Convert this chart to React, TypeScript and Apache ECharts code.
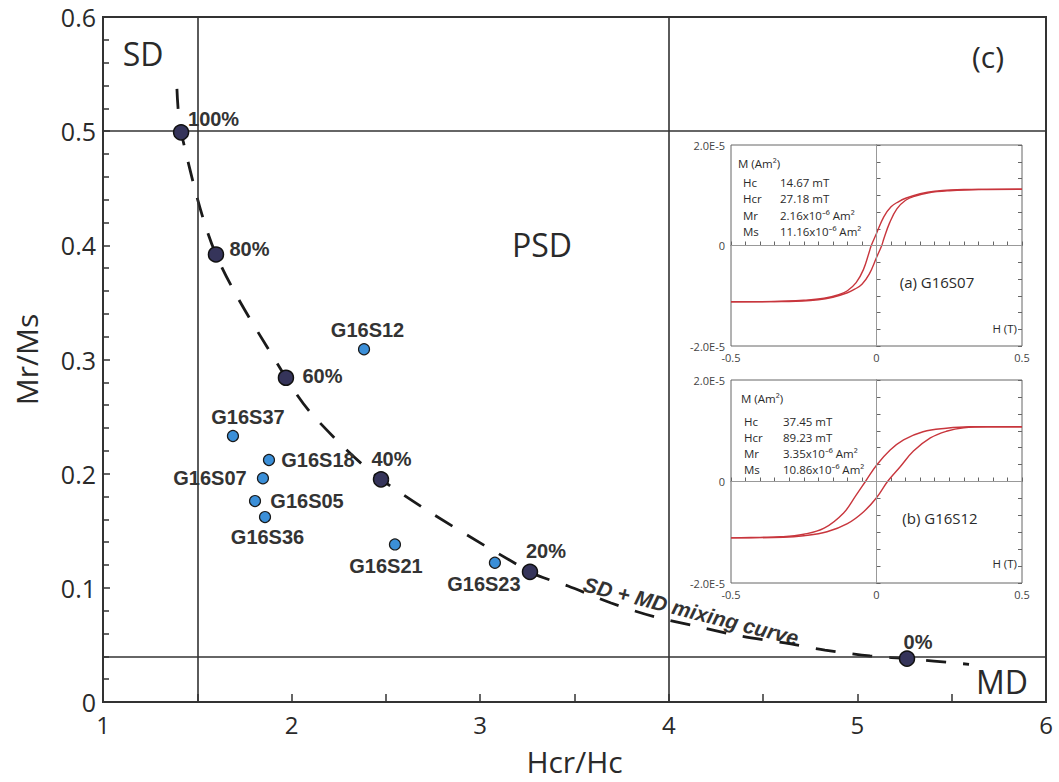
import React, { useEffect, useRef } from 'react';
import * as echarts from 'echarts';

// ---------- Day plot data ----------
const mixLabels = ['100%', '80%', '60%', '40%', '20%', '0%'];
const mixHcrHc = [1.414, 1.599, 1.97, 2.474, 3.264, 5.263];
const mixMrMs = [0.499, 0.392, 0.284, 0.195, 0.114, 0.038];

const curveHcrHc = [1.392, 1.414, 1.599, 1.97, 2.119, 2.474, 3.264, 3.466, 3.694, 3.927, 4.139, 4.378, 4.616, 4.828, 5.067, 5.263, 5.592];
const curveMrMs = [0.537, 0.499, 0.392, 0.284, 0.25, 0.195, 0.114, 0.1016, 0.0867, 0.0745, 0.0666, 0.0578, 0.0517, 0.0455, 0.0403, 0.038, 0.033];

const sampleNames = ['G16S12', 'G16S37', 'G16S18', 'G16S07', 'G16S05', 'G16S36', 'G16S21', 'G16S23'];
const sampleHcrHc = [2.384, 1.689, 1.88, 1.848, 1.806, 1.859, 2.548, 3.078];
const sampleMrMs = [0.309, 0.233, 0.212, 0.196, 0.176, 0.162, 0.138, 0.122];

const boundaryHcrHc = [1.5, 4];
const boundaryMrMs = [0.5, 0.04];

// ---------- Hysteresis loops (H in T, M in 1e-5 Am^2) ----------
const loopA_descH = [-0.5, -0.35, -0.25, -0.18, -0.13, -0.1, -0.07, -0.045, -0.025, -0.018, 0, 0.025, 0.05, 0.075, 0.1, 0.15, 0.2, 0.3, 0.5];
const loopA_descM = [-1.12, -1.115, -1.09, -1.05, -0.98, -0.9, -0.74, -0.48, -0.13, 0, 0.24, 0.57, 0.77, 0.87, 0.94, 1.03, 1.08, 1.115, 1.12];
const loopA_ascH = [-0.5, -0.3, -0.2, -0.15, -0.1, -0.075, -0.05, -0.025, 0, 0.018, 0.025, 0.045, 0.07, 0.1, 0.13, 0.18, 0.25, 0.35, 0.5];
const loopA_ascM = [-1.12, -1.115, -1.08, -1.03, -0.94, -0.87, -0.77, -0.57, -0.24, 0, 0.13, 0.45, 0.73, 0.9, 0.98, 1.05, 1.09, 1.115, 1.12];

const loopB_descH = [-0.5, -0.4, -0.33, -0.25, -0.18, -0.113, -0.07, -0.038, 0, 0.047, 0.093, 0.16, 0.24, 0.32, 0.5];
const loopB_descM = [-1.11, -1.1, -1.09, -1.04, -0.92, -0.62, -0.27, 0, 0.32, 0.62, 0.82, 0.98, 1.05, 1.08, 1.08];
const loopB_ascH = [-0.5, -0.32, -0.25, -0.17, -0.1, -0.045, 0, 0.038, 0.08, 0.127, 0.185, 0.24, 0.3, 0.38, 0.5];
const loopB_ascM = [-1.11, -1.1, -1.07, -0.99, -0.83, -0.6, -0.32, 0, 0.28, 0.6, 0.86, 0.99, 1.06, 1.08, 1.08];

const insetA_rows = [
  ['Hc', '14.67 mT'],
  ['Hcr', '27.18 mT'],
  ['Mr', '2.16x10⁻⁶ Am²'],
  ['Ms', '11.16x10⁻⁶ Am²'],
];
const insetB_rows = [
  ['Hc', '37.45 mT'],
  ['Hcr', '89.23 mT'],
  ['Mr', '3.35x10⁻⁶ Am²'],
  ['Ms', '10.86x10⁻⁶ Am²'],
];

// label offsets (layout, px)
const mixLabelOffsets: [number, number][] = [[32.5, -13.5], [33.5, -5.5], [36.5, -1.5], [10.5, -20], [16, -20.5], [11, -17]];
const sampleLabelOffsets: [number, number][] = [[3.5, -19], [15, -18.5], [49, 0.5], [-53, 0], [52, 0], [2.5, 20], [-9, 21.5], [-11, 21]];

const FONT = '"Open Sans", "Noto Sans", sans-serif';
const BOLD = '"Liberation Sans", Arial, sans-serif';
const TXT = '#2a2a2a';

function zip(a: number[], b: number[]) {
  return a.map((v, i) => [v, b[i]]);
}

function insetAxes(grid: number) {
  const x = {
    gridIndex: grid, type: 'value', min: -0.5, max: 0.5, interval: 0.5,
    axisLine: { show: true, lineStyle: { color: '#666', width: 1 } },
    axisTick: { show: true, inside: true, length: 4, lineStyle: { color: '#666' } },
    minorTick: { show: true, splitNumber: 10, length: 4, lineStyle: { color: '#666' } },
    splitLine: { show: false },
    axisLabel: { fontSize: 11, color: '#444', fontFamily: FONT, margin: 6 },
  };
  const yCommon = {
    gridIndex: grid, type: 'value', min: -2, max: 2, interval: 2,
    splitLine: { show: false },
  };
  const yLeft = {
    ...yCommon,
    axisLine: { show: true, lineStyle: { color: '#666', width: 1 } },
    axisTick: { show: true, inside: true, length: 4, lineStyle: { color: '#666' } },
    minorTick: { show: true, splitNumber: 6, length: 4, lineStyle: { color: '#666' } },
    axisLabel: {
      fontSize: 11, color: '#444', fontFamily: FONT, margin: 6,
      formatter: (v: number) => (Math.abs(v) < 1e-9 ? '0' : v > 0 ? '2.0E-5' : '-2.0E-5'),
    },
  };
  const yRight = {
    ...yCommon, position: 'right',
    axisLine: { show: false },
    axisTick: { show: true, inside: true, length: 4, lineStyle: { color: '#666' } },
    minorTick: { show: true, splitNumber: 6, length: 4, lineStyle: { color: '#666' } },
    axisLabel: { show: false },
  };
  return { x, yLeft, yRight };
}

function insetTexts(top: number, rowYs: number[], mX: number, nameX: number, valX: number, rows: string[][], title: string, titleX: number, titleY: number, hY: number) {
  const els: any[] = [];
  els.push({ type: 'text', x: mX, y: top, style: { text: 'M (Am²)', fontSize: 11.5, fontFamily: FONT, fill: TXT, align: 'left', verticalAlign: 'middle' } });
  rows.forEach((r, i) => {
    els.push({ type: 'text', x: nameX, y: rowYs[i], style: { text: r[0], fontSize: 11.5, fontFamily: FONT, fill: TXT, align: 'left', verticalAlign: 'middle' } });
    els.push({ type: 'text', x: valX, y: rowYs[i], style: { text: r[1], fontSize: 11.5, fontFamily: FONT, fill: TXT, align: 'left', verticalAlign: 'middle' } });
  });
  els.push({ type: 'text', x: titleX, y: titleY, style: { text: title, fontSize: 15, fontFamily: FONT, fill: TXT, align: 'center', verticalAlign: 'middle' } });
  els.push({ type: 'text', x: 1017, y: hY, style: { text: 'H (T)', fontSize: 11.5, fontFamily: FONT, fill: TXT, align: 'right', verticalAlign: 'middle' } });
  return els;
}

export default function App() {
  const ref = useRef<HTMLDivElement>(null);
  useEffect(() => {
    if (!ref.current) return;
    const chart = echarts.init(ref.current, undefined, { renderer: 'svg' });
    const a = insetAxes(1);
    const b = insetAxes(2);
    const zeroLine = {
      silent: true, symbol: 'none', label: { show: false },
      lineStyle: { color: '#999', width: 1, type: 'solid' },
      data: [{ xAxis: 0 }, { yAxis: 0 }],
    };
    const loopStyle = { color: '#c8363d', width: 1.4 };
    const option: any = {
      animation: false,
      backgroundColor: '#ffffff',
      grid: [
        { left: 103, right: 13, top: 17, bottom: 80, show: true, borderColor: '#333', borderWidth: 2, backgroundColor: 'transparent' },
        { left: 731, top: 145, width: 291, height: 201, show: true, borderColor: '#666', borderWidth: 1, backgroundColor: '#fff' },
        { left: 731, top: 380, width: 291, height: 203, show: true, borderColor: '#666', borderWidth: 1, backgroundColor: '#fff' },
      ],
      xAxis: [
        {
          gridIndex: 0, type: 'value', min: 1, max: 6, interval: 1,
          axisLine: { show: true, lineStyle: { color: '#333', width: 2 } },
          axisTick: { show: true, inside: true, length: 8, lineStyle: { color: '#333', width: 1.5 } },
          minorTick: { show: true, splitNumber: 2, length: 8, lineStyle: { color: '#333', width: 1.5 } },
          splitLine: { show: false },
          axisLabel: { fontSize: 24, color: TXT, fontFamily: FONT, margin: 10 },
          name: 'Hcr/Hc', nameLocation: 'middle', nameGap: 44,
          nameTextStyle: { fontSize: 30, color: TXT, fontFamily: FONT },
        },
        a.x, b.x,
      ],
      yAxis: [
        {
          gridIndex: 0, type: 'value', min: 0, max: 0.6, interval: 0.1,
          axisLine: { show: true, lineStyle: { color: '#333', width: 2 } },
          axisTick: { show: true, inside: true, length: 7, lineStyle: { color: '#333', width: 1.5 } },
          minorTick: { show: true, splitNumber: 5, length: 6, lineStyle: { color: '#333', width: 1.5 } },
          splitLine: { show: false },
          axisLabel: { fontSize: 25, color: TXT, fontFamily: FONT, margin: 7 },
          name: 'Mr/Ms', nameLocation: 'middle', nameGap: 62,
          nameTextStyle: { fontSize: 30, color: TXT, fontFamily: FONT },
        },
        a.yLeft, b.yLeft, a.yRight, b.yRight,
      ],
      series: [
        {
          type: 'line', xAxisIndex: 0, yAxisIndex: 0, smooth: 0.3, symbol: 'none', z: 3,
          data: zip(curveHcrHc, curveMrMs),
          lineStyle: { color: '#1a1a1a', width: 2.8, type: [20, 17] },
          markLine: {
            silent: true, symbol: 'none', label: { show: false },
            lineStyle: { color: '#333', width: 1.6, type: 'solid' },
            data: [
              ...boundaryHcrHc.map((v) => ({ xAxis: v })),
              ...boundaryMrMs.map((v) => ({ yAxis: v })),
            ],
          },
        },
        {
          type: 'scatter', xAxisIndex: 0, yAxisIndex: 0, symbol: 'circle', symbolSize: 15, z: 5,
          itemStyle: { color: '#35345a', borderColor: '#111', borderWidth: 1.5, opacity: 1 },
          label: { show: true, position: 'inside', formatter: '{b}', fontFamily: BOLD, fontWeight: 'bold', fontSize: 20, color: '#333' },
          data: mixHcrHc.map((x, i) => ({
            name: mixLabels[i], value: [x, mixMrMs[i]],
            label: { offset: mixLabelOffsets[i] },
          })),
        },
        {
          type: 'scatter', xAxisIndex: 0, yAxisIndex: 0, symbol: 'circle', symbolSize: 11, z: 5,
          itemStyle: { color: '#3b8fd8', borderColor: '#1a1a1a', borderWidth: 1.2, opacity: 1 },
          label: { show: true, position: 'inside', formatter: '{b}', fontFamily: BOLD, fontWeight: 'bold', fontSize: 20, color: '#333' },
          data: sampleHcrHc.map((x, i) => ({
            name: sampleNames[i], value: [x, sampleMrMs[i]],
            label: { offset: sampleLabelOffsets[i] },
          })),
        },
        {
          type: 'line', xAxisIndex: 1, yAxisIndex: 1, smooth: 0.4, symbol: 'none',
          data: zip(loopA_descH, loopA_descM), lineStyle: loopStyle, markLine: zeroLine,
        },
        {
          type: 'line', xAxisIndex: 1, yAxisIndex: 1, smooth: 0.4, symbol: 'none',
          data: zip(loopA_ascH, loopA_ascM), lineStyle: loopStyle,
        },
        {
          type: 'line', xAxisIndex: 2, yAxisIndex: 2, smooth: 0.4, symbol: 'none',
          data: zip(loopB_descH, loopB_descM), lineStyle: loopStyle, markLine: zeroLine,
        },
        {
          type: 'line', xAxisIndex: 2, yAxisIndex: 2, smooth: 0.4, symbol: 'none',
          data: zip(loopB_ascH, loopB_ascM), lineStyle: loopStyle,
        },
      ],
      graphic: [
        { type: 'text', x: 143, y: 53, style: { text: 'SD', fontSize: 32, fontFamily: FONT, fill: TXT, align: 'center', verticalAlign: 'middle' } },
        { type: 'text', x: 542, y: 244, style: { text: 'PSD', fontSize: 32, fontFamily: FONT, fill: TXT, align: 'center', verticalAlign: 'middle' } },
        { type: 'text', x: 1002, y: 681, style: { text: 'MD', fontSize: 32, fontFamily: FONT, fill: TXT, align: 'center', verticalAlign: 'middle' } },
        { type: 'text', x: 988, y: 56, style: { text: '(c)', fontSize: 30, fontFamily: FONT, fill: TXT, align: 'center', verticalAlign: 'middle' } },
        {
          type: 'text', x: 691, y: 611, rotation: -0.25,
          style: { text: 'SD + MD mixing curve', fontSize: 21, fontFamily: BOLD, fontWeight: 'bold', fontStyle: 'italic', fill: '#333', align: 'center', verticalAlign: 'middle' },
        },
        ...insetTexts(163, [182, 198, 215, 231], 738, 743, 780, insetA_rows, '(a) G16S07', 937, 282, 328),
        ...insetTexts(398, [421, 437, 453, 469], 741, 744, 783, insetB_rows, '(b) G16S12', 940, 518, 563),
      ],
    };
    chart.setOption(option);
    return () => chart.dispose();
  }, []);
  return <div ref={ref} style={{ position: 'fixed', left: 0, top: 0, width: 1059, height: 782, background: '#fff' }} />;
}
